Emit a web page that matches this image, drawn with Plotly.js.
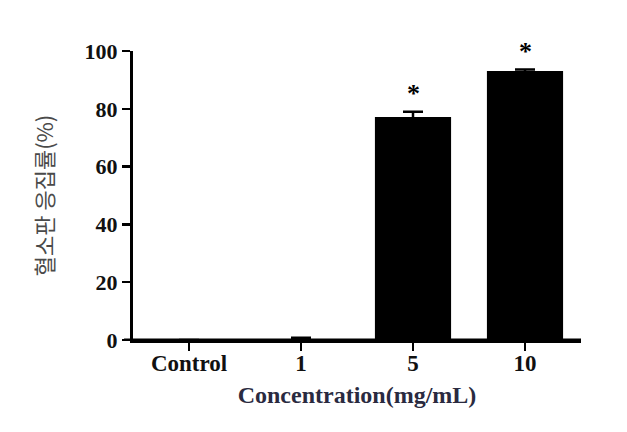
<!DOCTYPE html>
<html>
<head>
<meta charset="utf-8">
<script src="https://cdn.plot.ly/plotly-3.0.1.min.js"></script>
<style>html,body{margin:0;padding:0;background:#fff;}#chart{width:627px;height:432px;}</style>
</head>
<body>
<div id="chart"></div>
<script>
var categories = ["Control", "1", "5", "10"];
var values = [0, 0.3, 77.2, 93.1];
var errors = [0, 0.5, 1.8, 0.5];
var significance = ["", "", "*", "*"];

var annotations = [];
for (var i = 0; i < categories.length; i++) {
  if (significance[i]) {
    annotations.push({
      x: i, y: values[i] + errors[i], xref: "x", yref: "y",
      text: "<b>" + significance[i] + "</b>", showarrow: false, yanchor: "bottom", yshift: 2,
      font: {family: "Liberation Serif", size: 26, color: "#000"}
    });
  }
}

var trace = {
  type: "bar",
  x: categories,
  y: values,
  width: 0.68,
  marker: {color: "#000", line: {width: 0}},
  error_y: {type: "data", array: errors, visible: true, color: "#000", thickness: 2.5, width: 10}
};

var layout = {
  width: 627, height: 432,
  margin: {l: 133, r: 46, t: 51, b: 92},
  paper_bgcolor: "#fff", plot_bgcolor: "#fff",
  showlegend: false,
  xaxis: {
    type: "category", range: [-0.5, 3.5],
    showline: true, linewidth: 3, linecolor: "#000",
    ticks: "outside", ticklen: 8, tickwidth: 2.5, tickcolor: "#000",
    ticklabelstandoff: -8,
    showgrid: false, zeroline: false,
    tickfont: {family: "Liberation Serif", size: 23, color: "#111"},
    tickprefix: "<b>", ticksuffix: "</b>",
    title: {text: "<b>Concentration(mg/mL)</b>", standoff: 12,
            font: {family: "Liberation Serif", size: 24, color: "#2a2a40"}}
  },
  yaxis: {
    range: [0, 100], dtick: 20,
    showline: true, linewidth: 3, linecolor: "#000",
    ticks: "outside", ticklen: 8, tickwidth: 2.5, tickcolor: "#000",
    showgrid: false, zeroline: false,
    tickfont: {family: "Liberation Serif", size: 22, color: "#111"},
    tickprefix: "<b>", ticksuffix: "</b>",
    title: {text: "혈소판 응집률(%)", standoff: 25,
            font: {family: "Noto Sans CJK KR", size: 22, color: "#4a4a4a"}}
  },
  annotations: annotations,
  shapes: [{type: "line", xref: "paper", yref: "y", x0: -0.02, x1: 1.0, y0: 0, y1: 0,
            line: {color: "#000", width: 3}}]
};

Plotly.newPlot("chart", [trace], layout, {displayModeBar: false, staticPlot: true});
</script>
</body>
</html>
